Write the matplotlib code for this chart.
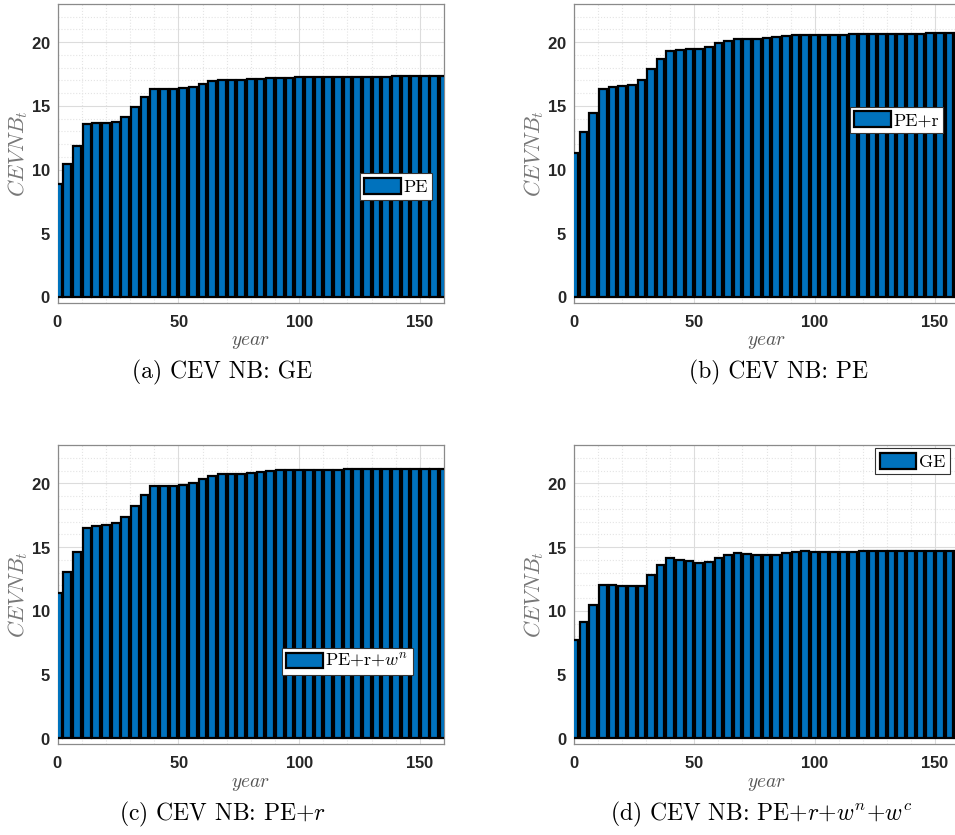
import numpy as np
import matplotlib
matplotlib.use("Agg")
import matplotlib.pyplot as plt
from matplotlib.ticker import MultipleLocator

plt.rcParams['mathtext.fontset'] = 'cm'
plt.rcParams['axes.formatter.use_mathtext'] = True

years = np.arange(0, 161, 4)

cev_pe = [8.83, 10.4, 11.85, 13.58, 13.63, 13.68, 13.71, 14.15, 14.89, 15.68,
          16.3, 16.3, 16.3, 16.38, 16.51, 16.72, 16.96, 17.04, 17.04, 17.04,
          17.09, 17.14, 17.16, 17.2, 17.22, 17.25, 17.25, 17.25, 17.25, 17.3,
          17.3, 17.3, 17.3, 17.3, 17.3, 17.33, 17.33, 17.33, 17.33, 17.33, 17.38]
cev_pe_r = [11.27, 12.92, 14.47, 16.3, 16.46, 16.57, 16.64, 17.01, 17.88, 18.66,
            19.34, 19.4, 19.45, 19.45, 19.63, 19.9, 20.13, 20.29, 20.29, 20.29,
            20.34, 20.39, 20.5, 20.55, 20.6, 20.6, 20.6, 20.6, 20.6, 20.62,
            20.62, 20.62, 20.65, 20.65, 20.65, 20.65, 20.65, 20.7, 20.7, 20.7, 20.7]
cev_pe_r_wn = [11.39, 13.06, 14.63, 16.49, 16.62, 16.75, 16.91, 17.33, 18.25, 19.08,
               19.76, 19.76, 19.82, 19.87, 20.05, 20.37, 20.6, 20.76, 20.76, 20.76,
               20.81, 20.86, 20.94, 21.02, 21.02, 21.02, 21.02, 21.02, 21.05, 21.05,
               21.1, 21.1, 21.1, 21.1, 21.1, 21.1, 21.13, 21.13, 21.13, 21.13, 21.13]
cev_ge = [7.7, 9.11, 10.47, 12.02, 12.02, 11.96, 11.91, 11.96, 12.77, 13.56,
          14.11, 14.0, 13.87, 13.77, 13.82, 14.11, 14.4, 14.53, 14.48, 14.4,
          14.4, 14.4, 14.53, 14.63, 14.68, 14.63, 14.58, 14.58, 14.58, 14.63,
          14.66, 14.66, 14.66, 14.66, 14.66, 14.66, 14.66, 14.66, 14.66, 14.66, 14.66]

series = [cev_pe, cev_pe_r, cev_pe_r_wn, cev_ge]
legends = ['PE', 'PE+r', 'PE+r+$w^n$', 'GE']
captions = ['(a) CEV NB: GE', '(b) CEV NB: PE',
            '(c) CEV NB: PE+$r$', '(d) CEV NB: PE+$r$+$w^n$+$w^c$']

W, H = 955, 835
fig = plt.figure(figsize=(W / 100, H / 100), dpi=100)

# pixel boxes: left, top, width, height
boxes = [(57.7, 4, 386.3, 298.7), (574, 4, 385, 298.7),
         (57.7, 445, 386.3, 299), (574, 445, 385, 299)]
leg_pos = [(0.876, 0.389), (0.838, 0.612), (0.750, 0.276), (0.879, 0.945)]
cap_pos = [(222, 372), (778, 372), (222, 814), (761, 814)]

for i in range(4):
    l, t, w, h = boxes[i]
    ax = fig.add_axes([l / W, 1 - (t + h) / H, w / W, h / H])
    ax.bar(years, series[i], width=3.2, color='#0072BD', edgecolor='black',
           linewidth=1.6, label=legends[i], zorder=3)
    ax.set_xlim(0, 160)
    ax.set_ylim(-0.45, 23)
    ax.set_xticks([0, 50, 100, 150])
    ax.set_yticks([0, 5, 10, 15, 20])
    ax.xaxis.set_minor_locator(MultipleLocator(10))
    ax.yaxis.set_minor_locator(MultipleLocator(1))
    ax.grid(True, which='major', color='#dcdcdc', linewidth=0.8, zorder=0)
    ax.grid(True, which='minor', color='#e4e4e4', linestyle=':', linewidth=0.8, zorder=0)
    ax.tick_params(which='both', length=0)
    ax.tick_params(axis='y', pad=5)
    ax.tick_params(axis='x', pad=8)
    for lab in ax.get_xticklabels() + ax.get_yticklabels():
        lab.set_fontweight('bold')
        lab.set_fontsize(12)
        lab.set_color('#262626')
        lab.set_family('Liberation Sans')
    for s in ax.spines.values():
        s.set_color('#8a8a8a')
        s.set_linewidth(0.9)
    ax.set_xlabel('$year$', fontsize=14, color='#555555', va='center')
    ax.xaxis.set_label_coords(0.5, -0.131)
    ax.set_ylabel('$CEVNB_t$', fontsize=16, color='#777777', va='center')
    ax.yaxis.set_label_coords(-0.103, 0.5)
    leg = ax.legend(loc='center', bbox_to_anchor=leg_pos[i], fancybox=False,
                    framealpha=1, edgecolor='#333333', borderpad=0.25,
                    handlelength=2.0, handleheight=0.95, handletextpad=0.15,
                    borderaxespad=0, prop={'family': 'cmr10', 'size': 13})
    leg.get_frame().set_linewidth(0.8)
    cx, cy = cap_pos[i]
    fig.text(cx / W, 1 - cy / H, captions[i], ha='center', va='center',
             fontsize=17, family='cmr10')

fig.savefig('out.png', dpi=100)
